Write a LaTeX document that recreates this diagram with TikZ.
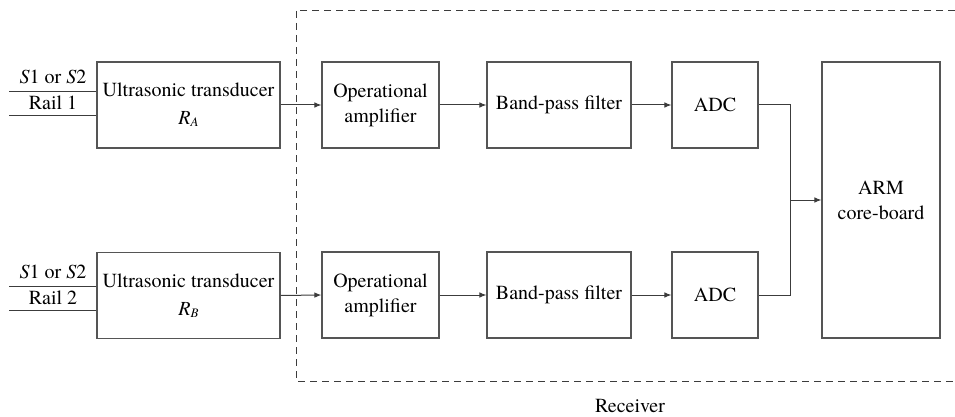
\documentclass[tikz,border=0pt]{standalone}
\usepackage{fontspec}
\setmainfont{TeX Gyre Termes}
\usetikzlibrary{arrows.meta}
\definecolor{boxgray}{RGB}{85,85,85}
\definecolor{linegray}{RGB}{60,60,60}
\newcommand{\subidx}[1]{\raisebox{-0.25ex}{\fontsize{13}{13}\selectfont\itshape #1}}
\begin{document}
\begin{tikzpicture}[x=1pt,y=-1pt,
  font=\rmfamily\fontsize{20}{25}\selectfont,
  block/.style={draw=boxgray, line width=1.1pt, inner sep=0pt, align=center},
  wire/.style={draw=linegray, line width=1pt},
  arrow/.style={wire, -{Latex[length=7pt,width=5.5pt]}},
  label/.style={inner sep=0pt, align=center}]
\useasboundingbox (0,0) rectangle (955,417);

% receiver frame (open on the right)
\coordinate (fTR) at (955,10);
\coordinate (fTL) at (296,10);
\coordinate (fBL) at (296,381);
\coordinate (fBR) at (955,381);
\draw[draw=linegray, line width=0.9pt, dash pattern=on 7pt off 5pt] (fTR) -- (fTL) -- (fBL) -- (fBR);
\node[label] (recv) at (630,406) {Receiver};

% upper channel
\node[block, minimum width=183pt, minimum height=86pt] (tA) at (188.5,105)
  {Ultrasonic transducer\\[3pt]\textit{R}\subidx{A}};
\node[block, minimum width=117pt, minimum height=86pt] (opA) at (380.5,105)
  {Operational\\amplifier};
\node[block, minimum width=144pt, minimum height=86pt] (bpA) at (559,105)
  {Band-pass filter};
\node[block, minimum width=86pt, minimum height=86pt] (adcA) at (715,105) {ADC};

% lower channel
\node[block, minimum width=183pt, minimum height=86pt] (tB) at (188.5,295.5)
  {Ultrasonic transducer\\[3pt]\textit{R}\subidx{B}};
\node[block, minimum width=117pt, minimum height=86pt] (opB) at (380.5,295)
  {Operational\\amplifier};
\node[block, minimum width=144pt, minimum height=86pt] (bpB) at (559,295)
  {Band-pass filter};
\node[block, minimum width=86pt, minimum height=86pt] (adcB) at (715,295) {ADC};

% processor
\node[block, minimum width=118pt, minimum height=276pt] (arm) at (881,200)
  {ARM\\core-board};

% inputs to the transducers
\coordinate (inA1) at (9,92);
\coordinate (inA2) at (9,116);
\coordinate (inB1) at (9,286);
\coordinate (inB2) at (9,310);
\draw[wire] (inA1) -- (inA1 -| tA.west);
\draw[wire] (inA2) -- (inA2 -| tA.west);
\draw[wire] (inB1) -- (inB1 -| tB.west);
\draw[wire] (inB2) -- (inB2 -| tB.west);
\node[label] (sA) at (53,77) {\textit{S}1 or \textit{S}2};
\node[label] (railA) at (53,103) {Rail 1};
\node[label] (sB) at (53,272) {\textit{S}1 or \textit{S}2};
\node[label] (railB) at (53,297.5) {Rail 2};

% signal chain
\draw[arrow] (tA.east) -- (opA.west);
\draw[arrow] (opA.east) -- (bpA.west);
\draw[arrow] (bpA.east) -- (adcA.west);
\draw[arrow] (tB.east) -- (opB.west);
\draw[arrow] (opB.east) -- (bpB.west);
\draw[arrow] (bpB.east) -- (adcB.west);

% merge into the processor
\coordinate (j) at (790,200);
\draw[wire] (adcA.east) -| (j);
\draw[wire] (adcB.east) -| (j);
\draw[arrow] (j) -- (j -| arm.west);
\end{tikzpicture}
\end{document}
